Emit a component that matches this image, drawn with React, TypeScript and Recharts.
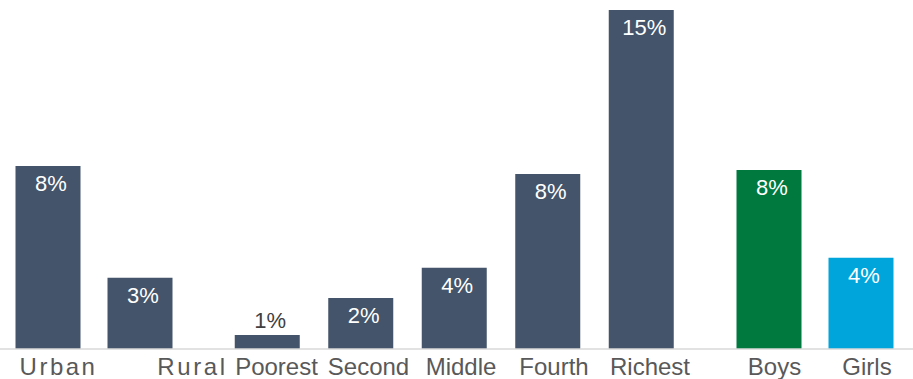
import { BarChart, Bar, XAxis, YAxis, Cell, LabelList } from 'recharts';

const residence = ['Urban', 'Rural'];
const residenceValues = [8.1, 3.15];

const wealth = ['Poorest', 'Second', 'Middle', 'Fourth', 'Richest'];
const wealthValues = [0.62, 2.26, 3.6, 7.74, 15.0];

const sex = ['Boys', 'Girls'];
const sexValues = [7.92, 4.04];

const SLATE = '#44546A';
const FONT = '"Liberation Sans", Arial, sans-serif';
const HEIGHT = 379;

// small horizontal nudges so the category labels sit where the original puts them
const tickShift: Record<string, { dx: number; spacing: number }> = {
  Urban: { dx: 11, spacing: 2.5 },
  Rural: { dx: 53, spacing: 2.6 },
  Poorest: { dx: 9, spacing: 0 },
  Second: { dx: 7.5, spacing: 0 },
  Middle: { dx: 6.5, spacing: 0 },
  Fourth: { dx: 6, spacing: 0 },
  Richest: { dx: 8.5, spacing: 0 },
  Boys: { dx: 6, spacing: 0 },
  Girls: { dx: 6.5, spacing: 0 },
};

function CategoryTick(props: any) {
  const { x, y, payload } = props;
  const s = tickShift[payload.value] || { dx: 0, spacing: 0 };
  return (
    <text
      x={x + s.dx}
      y={y}
      dy={17}
      textAnchor="middle"
      fontSize={24}
      fontFamily={FONT}
      fill="#595959"
      letterSpacing={s.spacing}
    >
      {payload.value}
    </text>
  );
}

function ValueLabel(props: any) {
  const { x, y, width, height, value } = props;
  const cx = x + width / 2 + 3;
  const text = `${Math.round(value)}%`;
  if (height < 30) {
    return (
      <text x={cx} y={y - 7} textAnchor="middle" fontSize={22} fontFamily={FONT} fill="#404040">
        {text}
      </text>
    );
  }
  return (
    <text x={cx} y={y + 25} textAnchor="middle" fontSize={22} fontFamily={FONT} fill="#ffffff">
      {text}
    </text>
  );
}

function Group({
  names,
  values,
  colors,
  width,
  padLeft,
  padRight,
}: {
  names: string[];
  values: number[];
  colors: string[];
  width: number;
  padLeft: number;
  padRight: number;
}) {
  const rows = names.map((name, i) => ({ name, value: values[i] }));
  return (
    <BarChart
      width={width}
      height={HEIGHT}
      data={rows}
      margin={{ top: 10, right: 0, bottom: 0, left: 0 }}
      barSize={65}
    >
      <XAxis
        dataKey="name"
        height={30}
        interval={0}
        tickLine={false}
        tickMargin={3}
        axisLine={{ stroke: '#D9D9D9', strokeWidth: 1.5 }}
        padding={{ left: padLeft, right: padRight }}
        tick={<CategoryTick />}
      />
      <YAxis hide domain={[0, 15]} />
      <Bar dataKey="value" isAnimationActive={false}>
        {rows.map((r, i) => (
          <Cell key={r.name} fill={colors[i]} />
        ))}
        <LabelList dataKey="value" content={<ValueLabel />} />
      </Bar>
    </BarChart>
  );
}

export default function App() {
  return (
    <div style={{ position: 'absolute', left: 0, top: 0, width: 913, height: HEIGHT, display: 'flex', background: '#fff', overflow: 'hidden' }}>
      <style>{`.recharts-wrapper, .recharts-surface { overflow: visible !important; }`}</style>
      <Group
        names={residence}
        values={residenceValues}
        colors={[SLATE, SLATE]}
        width={203}
        padLeft={1.5}
        padRight={17.5}
      />
      <Group
        names={wealth}
        values={wealthValues}
        colors={[SLATE, SLATE, SLATE, SLATE, SLATE]}
        width={502}
        padLeft={17.75}
        padRight={16.75}
      />
      <Group
        names={sex}
        values={sexValues}
        colors={['#00793F', '#00A5DB']}
        width={208}
        padLeft={17.5}
        padRight={6.5}
      />
    </div>
  );
}
